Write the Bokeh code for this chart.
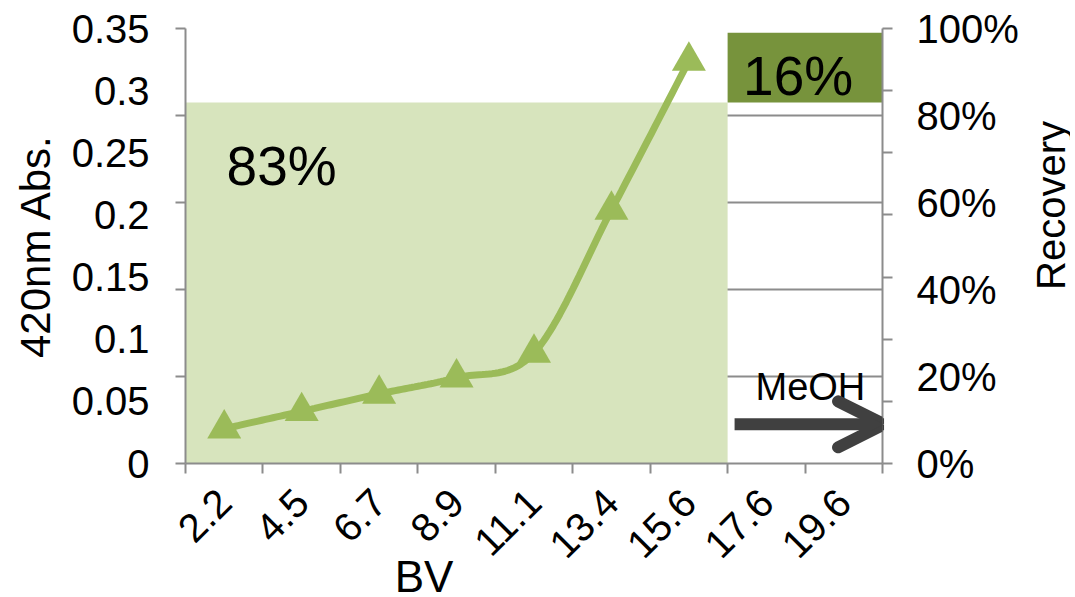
import math
from bokeh.plotting import figure
from bokeh.layouts import row
from bokeh.models import (Range1d, LinearAxis, FixedTicker, NumeralTickFormatter,
                          CustomJSTickFormatter, Arrow, OpenHead, Label)
from bokeh.embed import file_html
from bokeh.resources import INLINE

# ---------------- data ----------------
bv_labels = ["2.2", "4.5", "6.7", "8.9", "11.1", "13.4", "15.6", "17.6", "19.6"]
abs_values = [0.028, 0.042, 0.056, 0.069, 0.089, 0.204, 0.324]   # 420nm Abs. for first 7 BV
recovery_groups = [["2.2", "4.5", "6.7", "8.9", "11.1", "13.4", "15.6"], ["17.6", "19.6"]]
recovery_values = [0.83, 0.16]
recovery_colors = ["#d7e4bd", "#77933c"]
left_tick_values = [0, 0.05, 0.1, 0.15, 0.2, 0.25, 0.3, 0.35]
right_tick_values = [0, 0.2, 0.4, 0.6, 0.8, 1.0]

FONT = "'Liberation Sans', Arial, sans-serif"
GRAY = "#8c8c8c"
LINE_GREEN = "#9bbb59"

p = figure(frame_width=697, frame_height=435, output_backend="svg", toolbar_location=None,
           x_range=Range1d(0, len(bv_labels)), y_range=Range1d(0, 0.35),
           min_border_left=185, min_border_right=140, min_border_top=28, min_border_bottom=130,
           x_axis_location=None, y_axis_location=None)
p.extra_y_ranges = {"rec": Range1d(0, 1.0)}
p.outline_line_color = None
p.background_fill_color = "white"
p.border_fill_color = "white"

# ---------------- axes ----------------
def style_axis(ax, size="40px"):
    ax.axis_line_color = GRAY
    ax.axis_line_width = 2
    ax.major_tick_line_color = None
    ax.major_tick_in = 0
    ax.major_tick_out = 0
    ax.minor_tick_line_color = GRAY
    ax.minor_tick_line_width = 2
    ax.minor_tick_in = 0
    ax.minor_tick_out = 10
    ax.major_label_text_font = FONT
    ax.major_label_text_font_size = size
    ax.major_label_text_color = "black"
    ax.axis_label_text_font = FONT
    ax.axis_label_text_font_style = "normal"
    ax.axis_label_text_font_size = "42px"
    ax.axis_label_text_color = "black"

def title_only_axis(ax):
    ax.axis_line_color = None
    ax.major_tick_line_color = None
    ax.minor_tick_line_color = None
    ax.major_tick_out = 0
    ax.major_tick_in = 0
    ax.minor_tick_out = 0
    ax.minor_tick_in = 0
    ax.major_label_standoff = 0
    ax.axis_label_text_font = FONT
    ax.axis_label_text_font_style = "normal"
    ax.axis_label_text_color = "black"

n_right = len(right_tick_values) - 1
left_axis = LinearAxis(ticker=FixedTicker(ticks=left_tick_values,
                                          minor_ticks=[0.35 * k / n_right for k in range(n_right + 1)]),
                       formatter=NumeralTickFormatter(format="0.[00]"),
                       axis_label="420nm Abs.")
style_axis(left_axis)
left_axis.major_label_standoff = 26
left_axis.axis_label_standoff = 10
p.add_layout(left_axis, "left")

n_left = len(left_tick_values) - 1
right_axis = LinearAxis(y_range_name="rec",
                        ticker=FixedTicker(ticks=right_tick_values,
                                           minor_ticks=[k / n_left for k in range(n_left + 1)]),
                        formatter=NumeralTickFormatter(format="0%"))
style_axis(right_axis)
right_axis.major_label_standoff = 24
p.add_layout(right_axis, "right")

bottom_axis = LinearAxis(ticker=FixedTicker(ticks=[i + 0.5 for i in range(len(bv_labels))],
                                            minor_ticks=list(range(len(bv_labels) + 1))),
                         formatter=CustomJSTickFormatter(args=dict(labels=bv_labels),
                                                         code="return labels[Math.floor(tick)];"))
style_axis(bottom_axis, "40px")
bottom_axis.major_label_orientation = math.pi / 4
bottom_axis.major_label_standoff = 22
p.add_layout(bottom_axis, "below")

# axis carrying only the "BV" title; trailing no-break spaces move it left of centre
bv_title_axis = LinearAxis(ticker=FixedTicker(ticks=[]), axis_label="BV" + "\u00a0" * 18)
title_only_axis(bv_title_axis)
bv_title_axis.axis_label_text_font_size = "44px"
bv_title_axis.axis_label_standoff = -22
p.add_layout(bv_title_axis, "below")

p.xgrid.visible = False
p.ygrid.ticker = FixedTicker(ticks=[0.35 * k / n_right for k in range(1, n_right + 1)])
p.ygrid.grid_line_color = GRAY
p.ygrid.grid_line_width = 2

# ---------------- recovery blocks ----------------
lefts, rights, bottoms, tops = [], [], [], []
cum = 0.0
for grp, val in zip(recovery_groups, recovery_values):
    i0 = bv_labels.index(grp[0])
    i1 = bv_labels.index(grp[-1]) + 1
    lefts.append(i0); rights.append(i1)
    bottoms.append(cum); tops.append(cum + val)
    cum += val
p.quad(left=lefts, right=rights, bottom=bottoms, top=tops, fill_color=recovery_colors,
       line_color=None, y_range_name="rec")

# ---------------- smoothed absorbance line ----------------
xs = [i + 0.5 for i in range(len(abs_values))]
ys = abs_values
sx, sy = [], []
n = len(xs)
for i in range(n - 1):
    x0, y0 = (xs[i - 1], ys[i - 1]) if i > 0 else (xs[i], ys[i])
    x1, y1 = xs[i], ys[i]
    x2, y2 = xs[i + 1], ys[i + 1]
    x3, y3 = (xs[i + 2], ys[i + 2]) if i + 2 < n else (xs[i + 1], ys[i + 1])
    c1x, c1y = x1 + (x2 - x0) / 6, y1 + (y2 - y0) / 6
    c2x, c2y = x2 - (x3 - x1) / 6, y2 - (y3 - y1) / 6
    steps = 24
    for s in range(steps + (1 if i == n - 2 else 0)):
        t = s / steps
        a = (1 - t) ** 3; b = 3 * (1 - t) ** 2 * t; c = 3 * (1 - t) * t ** 2; d = t ** 3
        sx.append(a * x1 + b * c1x + c * c2x + d * x2)
        sy.append(a * y1 + b * c1y + c * c2y + d * y2)
p.line(sx, sy, line_color=LINE_GREEN, line_width=7)
p.scatter(xs, ys, marker="triangle", size=34, fill_color=LINE_GREEN, line_color=None)

# ---------------- annotations ----------------
for grp, bot, val, xoff, ydown in zip(recovery_groups, bottoms, recovery_values, [0.53, 0.2], [0.145, 0.1]):
    i0 = bv_labels.index(grp[0])
    p.add_layout(Label(x=i0 + xoff, y=bot + val - ydown, y_range_name="rec",
                       text=f"{val*100:.0f}%", text_font=FONT, text_font_size="55px",
                       text_color="black", text_baseline="alphabetic"))

p.add_layout(Label(x=7.36, y=0.176, y_range_name="rec", text="MeOH", text_font=FONT,
                   text_font_size="38px", text_color="black", text_baseline="alphabetic"))
p.add_layout(Arrow(x_start=7.09, y_start=0.09, x_end=9.02, y_end=0.09, y_range_name="rec",
                   line_color="#404040", line_width=12,
                   end=OpenHead(size=46, line_color="#404040", line_width=12, line_cap="round")))

# ---------------- narrow side panel holding the "Recovery" title ----------------
side = figure(width=48, height=593, output_backend="svg", toolbar_location=None,
              x_range=Range1d(0, 1), y_range=Range1d(0, 1),
              min_border_left=0, min_border_right=0, min_border_top=0, min_border_bottom=0,
              x_axis_location=None, y_axis_location=None)
side.outline_line_color = None
side.xgrid.visible = False
side.ygrid.visible = False
side.background_fill_color = "white"
side.border_fill_color = "white"
side.add_layout(Label(x=0.6, y=1 - 247 / 593, text="Recovery", angle=math.pi / 2,
                      text_font=FONT, text_font_size="40px", text_color="black",
                      text_align="center", text_baseline="middle"))

layout = row(p, side)
open("out.html", "w").write(file_html(layout, INLINE))
